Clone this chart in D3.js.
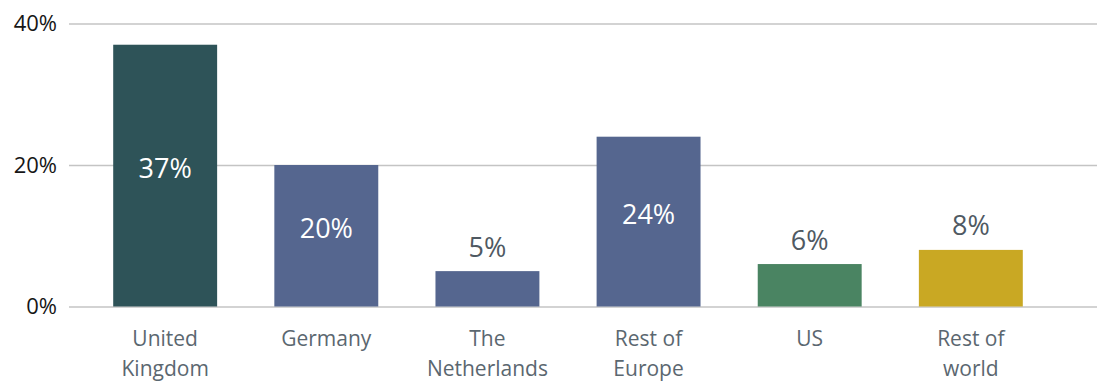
<!DOCTYPE html>
<html>
<head>
<meta charset="utf-8">
<script src="https://cdn.jsdelivr.net/npm/d3@7"></script>
<style>
  html, body { margin: 0; padding: 0; background: #fff; }
  svg { display: block; font-family: "Open Sans", "Noto Sans", sans-serif; }
</style>
</head>
<body>
<svg id="chart" width="1097" height="381"></svg>
<script>
// Share of total by region (%)
const categories = [["United", "Kingdom"], ["Germany"], ["The", "Netherlands"], ["Rest of", "Europe"], ["US"], ["Rest of", "world"]];
const values = [37, 20, 5, 24, 6, 8];
const barColors = ["#2e5358", "#55668f", "#55668f", "#55668f", "#4a8462", "#c9a823"];
const tickValues = [0, 20, 40];

const svg = d3.select("#chart");
const W = 1097;

const keys = categories.map(c => c.join(" "));
const x = d3.scaleBand().domain(keys).range([56, 1080]).paddingInner(0.355).paddingOuter(0.355);
const y = d3.scaleLinear().domain([0, 40]).range([306.5, 23.5]);

// Gridlines and tick labels
const yAxis = d3.axisLeft(y).tickValues(tickValues).tickFormat(d => d + "%").tickSize(0).tickPadding(12);
const gy = svg.append("g").attr("transform", "translate(69,0)").call(yAxis);
gy.select(".domain").remove();
gy.selectAll(".tick text").attr("font-size", 22).attr("fill", "#161616").attr("font-family", "Open Sans, sans-serif");
gy.selectAll(".tick").append("line")
  .attr("x1", 0).attr("x2", W - 69)
  .attr("stroke", "#c4c4c4").attr("stroke-width", 1.5);

// Bars
svg.append("g").selectAll("rect").data(values).join("rect")
  .attr("x", (d, i) => x(keys[i]))
  .attr("width", x.bandwidth())
  .attr("y", d => y(d))
  .attr("height", d => y(0) - y(d))
  .attr("fill", (d, i) => barColors[i]);

// Value labels: inside for tall bars, above for short ones
svg.append("g").selectAll("text").data(values).join("text")
  .attr("x", (d, i) => x(keys[i]) + x.bandwidth() / 2)
  .attr("y", d => d >= 15 ? (y(d) + y(0)) / 2 - 7 : y(d) - 24)
  .attr("dy", "0.35em")
  .attr("text-anchor", "middle")
  .attr("font-size", 27)
  .attr("fill", d => d >= 15 ? "#ffffff" : "#4f5962")
  .text(d => d + "%");

// Category labels
const cat = svg.append("g").selectAll("text").data(categories).join("text")
  .attr("x", (d, i) => x(keys[i]) + x.bandwidth() / 2)
  .attr("y", 346)
  .attr("text-anchor", "middle")
  .attr("font-size", 21)
  .attr("fill", "#5b6770");
cat.selectAll("tspan").data(d => d).join("tspan")
  .attr("x", function () { return d3.select(this.parentNode).attr("x"); })
  .attr("dy", (d, j) => j === 0 ? 0 : 30)
  .text(d => d);
</script>
</body>
</html>
